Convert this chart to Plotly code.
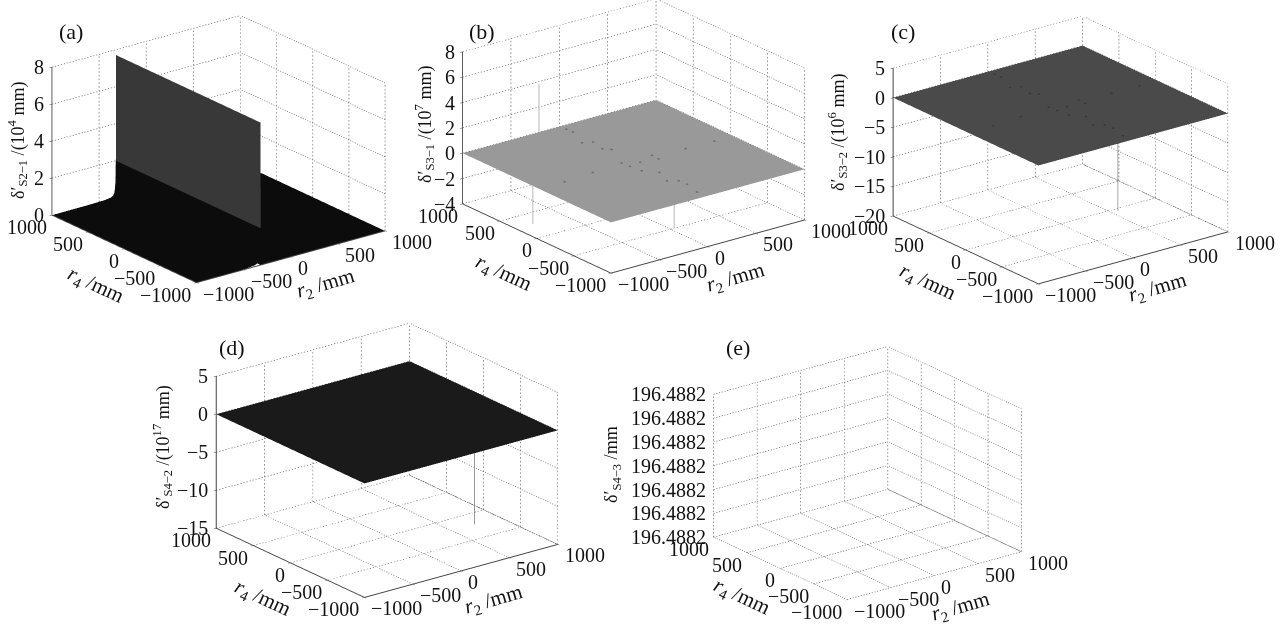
import plotly.graph_objects as go

W, H = 1285, 629
FONT = "Liberation Serif"
AXIS = [-1000, -500, 0, 500, 1000]
AXIS_TEXT = ["\u22121000", "\u2212500", "0", "500", "1000"]

# series values
A_R2 = [-1000, -600, -450, -380, -350, -338, -330, -325, -322, -320, -319, -318, 1000]
A_Z = [0, 0.01, 0.03, 0.07, 0.15, 0.3, 0.6, 1.2, 2.6, 7.7, 7.7, 0, 0]
SPECK_R2 = [0, 6, -86, -4, -38, 12, -112, -104, 20, -88, 192, 188, 4, -66, 12, 18, -24, 506, 798, -432, -744]
SPECK_R4 = [908, 824, 582, 540, 370, 312, 16, -88, -64, -226, 2, -94, -344, -536, -594, -698, -888, -42, -48, -14, -42]
B_SPIKE_R2 = [-214, -821, 34]
B_SPIKE_R4 = [995, 286, -504]
B_SPIKE_Z = [3.84, -4, -4]
C_SPIKE_R2 = [570]
C_SPIKE_R4 = [-46]
C_SPIKE_Z = [-20]
D_SPIKE_R2 = [737]
D_SPIKE_R4 = [-218]
D_SPIKE_Z = [-15]

A_TICKS = [0, 2, 4, 6, 8]
B_TICKS = [-4, -2, 0, 2, 4, 6, 8]
C_TICKS = [-20, -15, -10, -5, 0, 5]
D_TICKS = [-15, -10, -5, 0, 5]
E_TICKS = [0, 1, 2, 3, 4, 5, 6]
E_TEXT = ["196.4882"] * 7

PANEL_LABELS = ["(a)", "(b)", "(c)", "(d)", "(e)"]
Z_TITLES = ["\u03b4\u2032<sub>S2\u22121</sub> /(10<sup>4</sup> mm)", "\u03b4\u2032<sub>S3\u22121</sub> /(10<sup>7</sup> mm)",
            "\u03b4\u2032<sub>S3\u22122</sub> /(10<sup>6</sup> mm)", "\u03b4\u2032<sub>S4\u22122</sub> /(10<sup>17</sup> mm)",
            "\u03b4\u2032<sub>S4\u22123</sub> /mm"]
R2_TITLE = "<i>r</i><sub>2</sub> /mm"
R4_TITLE = "<i>r</i><sub>4</sub> /mm"

EL_X, EL_Y, EL_Z = -0.568, -0.741, 0.358
DIST = 1.25
BASE_ASPECT = 1.5
PANELS = [
    dict(name="scene", ticks=A_TICKS, text=None, dx=(0, 437), dy=(0, 320), off=-0.0733, scale=0.99, hz=146,
         line=True, floor=False, lab=(71, 32), zt=(17, 141), r4=(95, 285), r2=(325, 284)),
    dict(name="scene2", ticks=B_TICKS, text=None, dx=(420, 847), dy=(0, 320), off=-0.161, scale=1.016, hz=150,
         line=True, floor=True, lab=(482, 32), zt=(425, 125), r4=(503, 273), r2=(735, 278)),
    dict(name="scene3", ticks=C_TICKS, text=None, dx=(845, 1276), dy=(0, 320), off=-0.067, scale=0.995, hz=146,
         line=True, floor=True, lab=(903, 32), zt=(837, 133), r4=(927, 282), r2=(1157, 288)),
    dict(name="scene4", ticks=D_TICKS, text=None, dx=(170, 604), dy=(309, 629), off=-0.058, scale=1.015, hz=150,
         line=True, floor=True, lab=(232, 347), zt=(163, 447), r4=(262, 598), r2=(493, 600)),
    dict(name="scene5", ticks=E_TICKS, text=E_TEXT, dx=(650, 1085), dy=(309, 629), off=0.027, scale=0.915, hz=141,
         line=False, floor=True, lab=(738, 347), zt=(612, 465), r4=(742, 597), r2=(960, 607)),
]

fig = go.Figure()
GRID = "#555555"
DOT_ON, DOT_PERIOD = 0.0065, 0.0155


def dotted(scene, segments, color):
    xs, ys, zs = [], [], []
    for p, q, frac in segments:
        n = int(frac / DOT_PERIOD)
        for i in range(n):
            t0 = i / n
            t1 = t0 + (DOT_ON / frac)
            for t in (t0, t1):
                xs.append(p[0] + (q[0] - p[0]) * t)
                ys.append(p[1] + (q[1] - p[1]) * t)
                zs.append(p[2] + (q[2] - p[2]) * t)
            xs.append(None); ys.append(None); zs.append(None)
    fig.add_trace(go.Scatter3d(x=xs, y=ys, z=zs, mode="lines", scene=scene, showlegend=False, hoverinfo="skip",
                               line=dict(color=color, width=1.2)))


def grid(scene, ticks, floor):
    lo, hi = ticks[0], ticks[-1]
    a0, a1 = AXIS[0], AXIS[-1]
    segs = []
    for t in AXIS:
        if floor:
            segs.append(((t, a0, lo), (t, a1, lo), 1))
            segs.append(((a0, t, lo), (a1, t, lo), 1))
        segs.append(((t, a1, lo), (t, a1, hi), 0.62))
        segs.append(((a1, t, lo), (a1, t, hi), 0.62))
    for t in ticks:
        if floor or t != lo:
            segs.append(((a0, a1, t), (a1, a1, t), 1))
            segs.append(((a1, a0, t), (a1, a1, t), 1))
    dotted(scene, segs, GRID)


def flat(scene, color):
    fig.add_trace(go.Surface(x=AXIS, y=AXIS, z=[[0] * 5] * 5, scene=scene, showscale=False, hoverinfo="skip",
                             colorscale=[[0, color], [1, color]], cmin=-1, cmax=1,
                             lighting=dict(ambient=1, diffuse=0, specular=0, roughness=1, fresnel=0)))


def spikes(scene, r2, r4, z, color="#8a8a8a"):
    xs, ys, zs = [], [], []
    for a, b, c in zip(r2, r4, z):
        xs += [a, a, None]; ys += [b, b, None]; zs += [0, c, None]
    fig.add_trace(go.Scatter3d(x=xs, y=ys, z=zs, mode="lines", scene=scene, showlegend=False, hoverinfo="skip",
                               line=dict(color=color, width=1.5)))


def specks(scene, color, lift):
    fig.add_trace(go.Scatter3d(x=SPECK_R2, y=SPECK_R4, z=[lift] * len(SPECK_R2), mode="markers", scene=scene,
                               showlegend=False, hoverinfo="skip",
                               marker=dict(size=1.5, color=color, line=dict(width=0))))


for p in PANELS:
    grid(p["name"], p["ticks"], p["floor"])

fig.add_trace(go.Surface(x=A_R2, y=[-1000, 1000], z=[A_Z, A_Z], scene="scene", showscale=False, hoverinfo="skip",
                         cmin=0, cmax=8,
                         colorscale=[[0, "#0c0c0c"], [0.25, "#0c0c0c"], [0.2501, "#383838"], [1, "#383838"]],
                         lighting=dict(ambient=1, diffuse=0, specular=0, roughness=1, fresnel=0)))
flat("scene2", "#999999")
spikes("scene2", B_SPIKE_R2, B_SPIKE_R4, B_SPIKE_Z, "#a0a0a0")
specks("scene2", "#6e6e6e", 0.03)
flat("scene3", "#4a4a4a")
spikes("scene3", C_SPIKE_R2, C_SPIKE_R4, C_SPIKE_Z)
specks("scene3", "#383838", 0.05)
dotted("scene3", [((1000, 1000, C_TICKS[0]), (1000, -1000, C_TICKS[0]), 1)], "#222222")
flat("scene4", "#1a1a1a")
spikes("scene4", D_SPIKE_R2, D_SPIKE_R4, D_SPIKE_Z, "#777777")
dotted("scene4", [((1000, 1000, D_TICKS[0]), (1000, -1000, D_TICKS[0]), 1)], "#222222")
fig.add_trace(go.Scatter3d(x=[1000, 1000], y=[1000, -1000], z=[E_TICKS[0], E_TICKS[0]], mode="lines", scene="scene5",
                           showlegend=False, hoverinfo="skip", line=dict(color="#666666", width=1.2)))


def ax(vals, rng, line):
    return dict(range=rng, tickvals=vals, showticklabels=False, title=dict(text=""), showgrid=False, zeroline=False,
                showbackground=False, showspikes=False, showline=line, linecolor="#444444", linewidth=2,
                ticks="outside" if line else "", ticklen=3, tickcolor="#444444", autorange=False)


def tick_note(x, y, z, text, xanchor, xshift, yshift):
    return dict(x=x, y=y, z=z, text=text, showarrow=False, xanchor=xanchor, yanchor="middle", xshift=xshift,
                yshift=yshift, font=dict(family=FONT, size=20, color="#111111"))


layout = {}
notes = []
for i, p in enumerate(PANELS):
    ticks = p["ticks"]
    labels = p["text"] or [str(t).replace("-", "\u2212") for t in ticks]
    lo, hi = ticks[0], ticks[-1]
    sn = []
    for v, s in zip(AXIS, AXIS_TEXT):
        sn.append(tick_note(v, -1000, lo, s, "left", 5, -11))
        sn.append(tick_note(-1000, v, lo, s, "right", -3, -12))
    for v, s in zip(ticks, labels):
        sn.append(tick_note(-1000, 1000, v, s, "right", -6, 0))
    a = BASE_ASPECT * p["scale"]
    layout[p["name"]] = dict(
        domain=dict(x=[p["dx"][0] / W, p["dx"][1] / W], y=[1 - p["dy"][1] / H, 1 - p["dy"][0] / H]),
        xaxis=ax(AXIS, [-1000, 1000], p["line"]),
        yaxis=ax(AXIS, [-1000, 1000], p["line"]),
        zaxis=ax(ticks, [lo, hi], p["line"]),
        aspectmode="manual", aspectratio=dict(x=a, y=a, z=BASE_ASPECT * 0.66 * p["hz"] / 146),
        bgcolor="rgba(0,0,0,0)",
        annotations=sn,
        camera=dict(projection=dict(type="orthographic"), up=dict(x=0, y=0, z=1),
                    center=dict(x=0, y=0, z=p["off"]),
                    eye=dict(x=EL_X * DIST, y=EL_Y * DIST, z=EL_Z * DIST + p["off"])),
    )

    def note(pos, text, angle=0, size=21):
        notes.append(dict(x=pos[0] / W, y=1 - pos[1] / H, xref="paper", yref="paper", text=text, textangle=angle,
                          showarrow=False, xanchor="center", yanchor="middle",
                          font=dict(family=FONT, size=size, color="#111111")))
    note(p["lab"], PANEL_LABELS[i], 0, 22)
    note(p["zt"], Z_TITLES[i], -90, 18)
    note(p["r4"], R4_TITLE, 25)
    note(p["r2"], R2_TITLE, -16)

fig.update_layout(width=W, height=H, margin=dict(l=0, r=0, t=0, b=0), paper_bgcolor="white", showlegend=False,
                  annotations=notes, **layout)
fig.write_html("out.html", config=dict(displayModeBar=False), post_script="document.body.style.margin='0';")
